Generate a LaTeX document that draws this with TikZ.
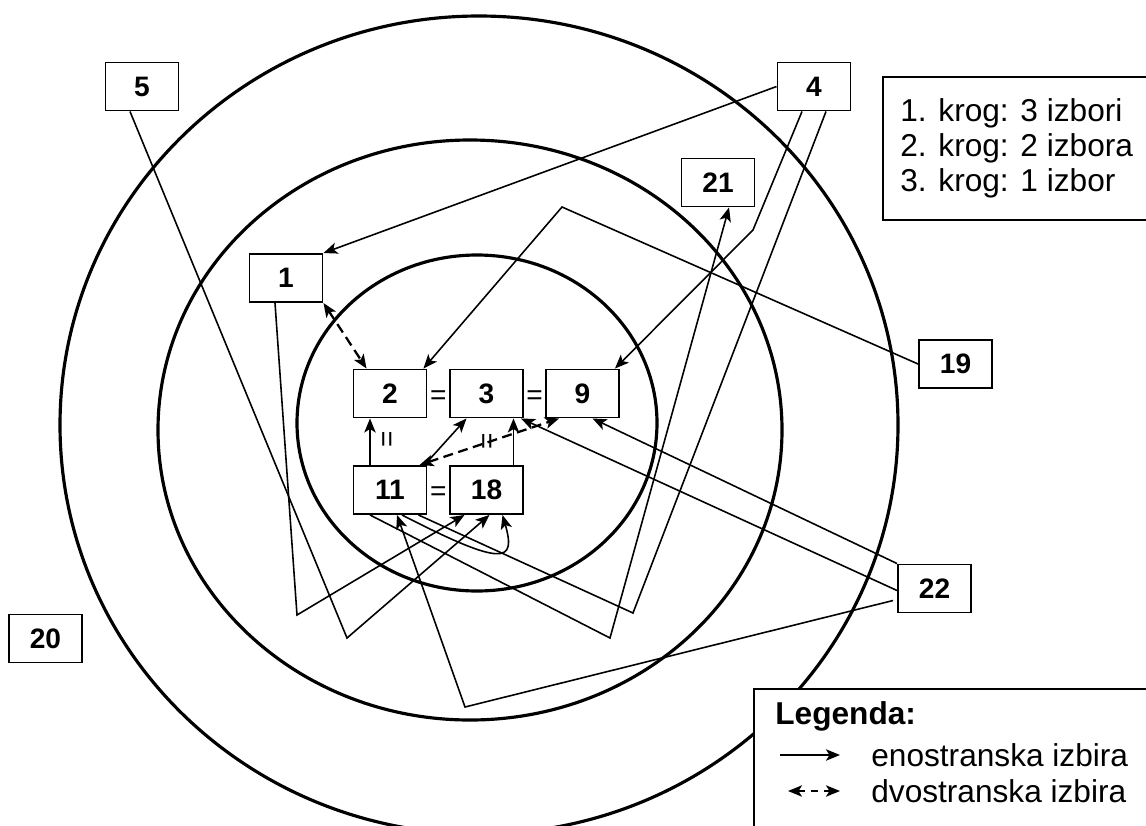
\documentclass[tikz,border=0pt]{standalone}
\usepackage{fontspec}
\setmainfont{Liberation Sans}
\usetikzlibrary{arrows.meta, calc}
\tikzset{>={Stealth[length=8pt,width=6.5pt,inset=2pt]},
oseba/.style={draw, line width=1.1pt, fill=white, minimum width=14.6mm, minimum height=9.6mm, inner sep=0pt, font=\fontsize{16}{19}\selectfont\bfseries},
krog/.style={line width=1.8pt},
izbira/.style={->, line width=0.9pt},
povezava/.style={line width=0.9pt},
obojestranska/.style={<->, line width=1.3pt, dash pattern=on 2mm off 1.1mm},
rovno/.style={inner sep=0pt, font=\fontsize{16}{19}\selectfont},
napis/.style={inner sep=0pt, font=\fontsize{18}{20}\selectfont},
}

\begin{document}
\begin{tikzpicture}[x=0.2mm, y=-0.2mm]
    \clip (0,0) rectangle (1146,825);

    \draw[krog] (479,425) ellipse [x radius=419, y radius=409];
    \draw[krog] (470,430) ellipse [x radius=312, y radius=290];
    \draw[krog] (477,423) ellipse [x radius=180, y radius=168];

    \node[oseba] (n2) at (390,393.5) {2};
    \node[oseba] (n3) at (486.5,393.5) {3};
    \node[oseba] (n9) at (582.5,393.5) {9};
    \node[oseba] (n11) at (390,490) {11};
    \node[oseba] (n18) at (486.5,490) {18};
    \node[oseba] (n1) at (286,278) {1};
    \node[oseba] (n21) at (718,182.5) {21};
    \node[oseba] (n4) at (814,86.5) {4};
    \node[oseba] (n5) at (142,86.5) {5};
    \node[oseba] (n19) at (955.5,364) {19};
    \node[oseba] (n20) at (45.5,638.5) {20};
    \node[oseba] (n22) at (934.5,588.5) {22};

    \node[rovno] (eq23) at ($(n2.east)!0.5!(n3.west)+(0,4)$) {=};
    \node[rovno] (eq39) at ($(n3.east)!0.5!(n9.west)+(0,4)$) {=};
    \node[rovno] (eq1118) at ($(n11.east)!0.5!(n18.west)+(0,4)$) {=};
    \node[rovno, rotate=90] (eq211) at ($(n2.south)!0.5!(n11.north)+(0,-2)$) {=};
    \node[rovno, rotate=90] (eq318) at ($(n3.south)!0.5!(n18.north)+(3,0)$) {=};

    \draw[izbira] (n4.west) -- (n1.north east);
    \draw[izbira] ($(n4.south)+(-12,0)$) -- (753,230) -- ($(n9.north east)+(-5,0)$);
    \draw[povezava] ($(n4.south)+(12,0)$) -- (633,613) -- ($(n11.south east)+(-9,0)$);
    \draw[izbira] ($(n5.south)+(-12,0)$) -- (347,638) -- ($(n18.south)+(3,0)$);
    \draw[izbira] ($(n1.south)+(-11,0)$) -- (297,615) -- ($(n18.south)+(-22,0)$);
    \draw[izbira] (n19.west) -- (562,207) -- ($(n2.north east)+(-4,0)$);
    \draw[izbira] ($(n11.north)+(-20,0)$) -- ($(n2.south)+(-20,0)$);
    \draw[izbira] ($(n11.north east)+(-3,0)$) -- ($(n3.south)+(-20,0)$);
    \draw[izbira] ($(n18.north)+(27,0)$) -- ($(n3.south)+(27,0)$);
    \draw[izbira] ($(n22.west)+(0,2)$) -- ($(n3.south east)+(-3,0)$);
    \draw[izbira] (n22.north west) -- ($(n9.south)+(10,0)$);
    \draw[izbira] ($(n22.west)+(-4,12)$) -- (465,707) -- ($(n11.south)+(7,0)$);
    \draw[izbira] ($(n11.south)+(-20,0)$) -- (610,638) -- ($(n21.south)+(11,0)$);
    \draw[izbira] ($(n11.south)+(12,0)$) .. controls (505,568) and (516,562) .. ($(n18.south)+(16,0)$);

    \draw[obojestranska] (n1.south east) -- ($(n2.north west)+(14,0)$);
    \draw[obojestranska] ($(n11.north east)+(-8,0)$) -- ($(n9.south west)+(14,0)$);

    \node[draw, line width=1pt, anchor=north west, align=left, minimum width=52.4mm, minimum height=28.6mm, inner xsep=3.5mm, font=\fontsize{18}{20}\selectfont] (krogi) at (882,76) {1. krog: 3 izbori\\2. krog: 2 izbora\\3. krog: 1 izbor};

    \node[draw, line width=1pt, fill=white, anchor=north west, minimum width=90mm, minimum height=35mm] (legenda) at (753,688) {};
    \node[napis, anchor=west, font=\fontsize{18}{20}\selectfont\bfseries] (naslov) at (775,716) {Legenda:};
    \node[napis, anchor=west] (eno) at (871,755) {enostranska izbira};
    \node[napis, anchor=west] (dvo) at (871,791) {dvostranska izbira};
    \draw[izbira] ($(eno.west)+(-91,0)$) -- ($(eno.west)+(-31,0)$);
    \draw[obojestranska, line width=0.9pt, dash pattern=on 1.4mm off 1.2mm] ($(dvo.west)+(-83,0)$) -- ($(dvo.west)+(-31,0)$);
\end{tikzpicture}
\end{document}
